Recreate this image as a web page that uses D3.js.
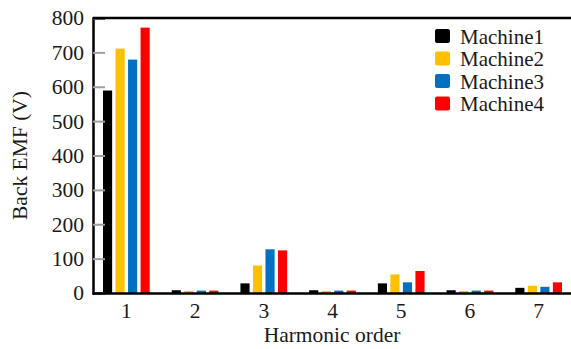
<!DOCTYPE html>
<html>
<head>
<meta charset="utf-8">
<script src="https://cdn.jsdelivr.net/npm/d3@7"></script>
<style>
  body { margin: 0; background: #fff; }
  svg text { font-family: "Liberation Serif", "Times New Roman", serif; }
</style>
</head>
<body>
<svg></svg>
<script>
// Chart data
const harmonics = ['1', '2', '3', '4', '5', '6', '7']
const machines = ['Machine1', 'Machine2', 'Machine3', 'Machine4']
const machine1 = [589, 8, 28, 8, 28, 8, 15]
const machine2 = [711, 6, 80, 6, 54, 6, 21]
const machine3 = [679, 7, 127, 7, 31, 7, 18]
const machine4 = [772, 7, 124, 7, 64, 7, 31]
const yTicks = [0, 100, 200, 300, 400, 500, 600, 700, 800]
const colors = ['#000000', '#ffc000', '#0070c0', '#ff0000']

const width = 571
const height = 349
const margin = { top: 18, right: -2, bottom: 56, left: 93 }
const fontSize = '21.5px'
const textColor = '#1a1a1a'

const series = [machine1, machine2, machine3, machine4]

const svg = d3.select('svg')
    .attr('width', width)
    .attr('height', height)

// Scales
const xScale = d3.scaleBand()
    .domain(harmonics)
    .range([margin.left - 1, width - margin.right])
    .padding(0)

const subScale = d3.scaleBand()
    .domain(machines)
    .range([11, xScale.bandwidth() - 11])
    .paddingInner(0.27)

const yScale = d3.scaleLinear()
    .domain([0, 800])
    .range([height - margin.bottom, margin.top])

// Bars
const groups = svg.append('g')
    .selectAll('g')
    .data(harmonics)
    .enter()
    .append('g')
    .attr('transform', d => 'translate(' + xScale(d) + ',0)')

groups.selectAll('rect')
    .data((d, i) => machines.map((m, j) => ({ m: m, v: series[j][i], c: colors[j] })))
    .enter()
    .append('rect')
    .attr('x', d => subScale(d.m))
    .attr('width', subScale.bandwidth())
    .attr('y', d => yScale(d.v))
    .attr('height', d => yScale(0) - yScale(d.v))
    .attr('fill', d => d.c)

// Y axis with inward grey ticks
const yAxis = d3.axisLeft(yScale)
    .tickValues(yTicks)
    .tickSize(-12)
    .tickPadding(10)
svg.append('g')
    .attr('transform', 'translate(' + margin.left + ',0)')
    .call(yAxis)
    .attr('font-family', null)
    .attr('font-size', null)
    .call(g => g.select('.domain').attr('stroke', '#000').attr('stroke-width', 2.5))
    .call(g => g.selectAll('.tick line').attr('stroke', '#a0a0a0').attr('stroke-width', 2))
    .call(g => g.selectAll('.tick text')
        .attr('x', -9)
        .attr('fill', textColor)
        .style('font-size', fontSize))

// X axis (no ticks)
const xAxis = d3.axisBottom(xScale)
    .tickSize(0)
    .tickPadding(10)
svg.append('g')
    .attr('transform', 'translate(0,' + yScale(0) + ')')
    .call(xAxis)
    .attr('font-family', null)
    .attr('font-size', null)
    .call(g => g.select('.domain').attr('stroke', '#000').attr('stroke-width', 2.5))
    .call(g => g.selectAll('.tick text')
        .attr('fill', textColor)
        .style('font-size', fontSize))

// Top frame line
svg.append('line')
    .attr('x1', margin.left)
    .attr('x2', width)
    .attr('y1', yScale(800))
    .attr('y2', yScale(800))
    .attr('stroke', '#000')
    .attr('stroke-width', 2.5)

// Axis titles
svg.append('text')
    .attr('x', 332)
    .attr('y', 342)
    .attr('text-anchor', 'middle')
    .attr('fill', textColor)
    .style('font-size', fontSize)
    .text('Harmonic order')

svg.append('text')
    .attr('transform', 'translate(27,' + ((yScale(0) + yScale(800)) / 2) + ') rotate(-90)')
    .attr('text-anchor', 'middle')
    .attr('fill', textColor)
    .style('font-size', fontSize)
    .text('Back EMF (V)')

// Legend
const legend = svg.append('g')
    .attr('transform', 'translate(435,36)')

const items = legend.selectAll('g')
    .data(machines)
    .enter()
    .append('g')
    .attr('transform', (d, i) => 'translate(0,' + (i * 22.5) + ')')

items.append('rect')
    .attr('x', 0)
    .attr('y', -7)
    .attr('width', 15)
    .attr('height', 14)
    .attr('rx', 2)
    .attr('fill', (d, i) => colors[i])

items.append('text')
    .attr('x', 25)
    .attr('y', 7.5)
    .attr('fill', textColor)
    .style('font-size', '21px')
    .text(d => d)
</script>
</body>
</html>
